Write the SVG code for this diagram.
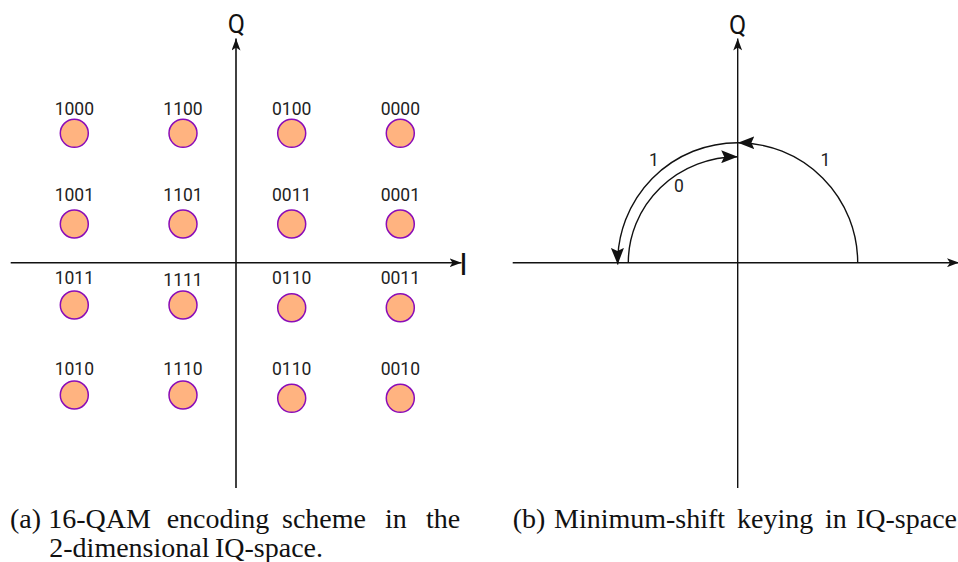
<svg xmlns="http://www.w3.org/2000/svg" width="958" height="562" viewBox="0 0 958 562">
<style>
.pt{fill:#ffb380;stroke:#8a0cb8;stroke-width:1.5}
.lbl{font-family:Roboto,"Liberation Sans",sans-serif;font-size:17.5px;fill:#222;text-anchor:middle}
.ax{font-family:Roboto,"Liberation Sans",sans-serif;font-size:25px;fill:#111;text-anchor:middle}
.axis{stroke:#111;stroke-width:1.6;fill:none}
.arc{stroke:#111;stroke-width:1.4;fill:none}
.cap{font-family:"Liberation Serif","Times New Roman",serif;font-size:28px;fill:#111}
</style>
<defs>
<marker id="sa" markerUnits="userSpaceOnUse" markerWidth="13" markerHeight="9" refX="12" refY="4.5" orient="auto" viewBox="0 0 13 9">
<path d="M0,0 L12,4.5 L0,9 L3,4.5 z" fill="#111"/>
</marker>
<marker id="la" markerUnits="userSpaceOnUse" markerWidth="17" markerHeight="13" refX="16.5" refY="6.5" orient="auto" viewBox="0 0 17 13">
<path d="M0,0 L16.5,6.5 L0,13 L3,6.5 z" fill="#111"/>
</marker>
</defs>

<g id="connectors">
<line class="axis" x1="236" y1="488" x2="236" y2="38.5" marker-end="url(#sa)"/>
<line class="axis" x1="10.7" y1="262.7" x2="461.5" y2="262.7" marker-end="url(#sa)"/>
<line class="arc" x1="737.7" y1="488" x2="737.7" y2="38.5" marker-end="url(#sa)"/>
<line class="arc" x1="512.7" y1="262.7" x2="959" y2="262.7" marker-end="url(#sa)"/>
<path class="arc" d="M857.7,262.7 A120,120 0 0 0 737.9,142.7" marker-end="url(#la)"/>
<path class="arc" d="M737.7,142.7 A120,120 0 0 0 617.7,264.5" marker-end="url(#la)"/>
<path class="arc" d="M628.3,262.7 A109.4,106 0 0 1 737.7,156.7" marker-end="url(#la)"/>
</g>

<g id="axis-labels">
<text class="ax" x="236.3" y="33">Q</text>
<text class="ax" x="463.5" y="275" style="font-size:31px">I</text>
<text class="ax" x="737.5" y="34">Q</text>
</g>

<g id="p1000"><circle class="pt" cx="74.3" cy="133.3" r="14"/><text class="lbl" x="74.3" y="115">1000</text></g>
<g id="p1100"><circle class="pt" cx="183" cy="133.3" r="14"/><text class="lbl" x="183" y="115">1100</text></g>
<g id="p0100"><circle class="pt" cx="291.7" cy="133.3" r="14"/><text class="lbl" x="291.7" y="115">0100</text></g>
<g id="p0000"><circle class="pt" cx="400.3" cy="133.3" r="14"/><text class="lbl" x="400.3" y="115">0000</text></g>

<g id="p1001"><circle class="pt" cx="74.3" cy="224" r="14"/><text class="lbl" x="74.3" y="201.3">1001</text></g>
<g id="p1101"><circle class="pt" cx="183" cy="224" r="14"/><text class="lbl" x="183" y="201.3">1101</text></g>
<g id="p0011a"><circle class="pt" cx="291.7" cy="224" r="14"/><text class="lbl" x="291.7" y="201.3">0011</text></g>
<g id="p0001"><circle class="pt" cx="400.3" cy="224" r="14"/><text class="lbl" x="400.3" y="201.3">0001</text></g>

<g id="p1011"><circle class="pt" cx="74.3" cy="305" r="14"/><text class="lbl" x="74.3" y="284">1011</text></g>
<g id="p1111"><circle class="pt" cx="183" cy="305" r="14"/><text class="lbl" x="183" y="285.7">1111</text></g>
<g id="p0110a"><circle class="pt" cx="291.7" cy="307.7" r="14"/><text class="lbl" x="291.7" y="284">0110</text></g>
<g id="p0011b"><circle class="pt" cx="400.3" cy="307.7" r="14"/><text class="lbl" x="400.3" y="284">0011</text></g>

<g id="p1010"><circle class="pt" cx="74.3" cy="395" r="14"/><text class="lbl" x="74.3" y="375">1010</text></g>
<g id="p1110"><circle class="pt" cx="183" cy="395" r="14"/><text class="lbl" x="183" y="375">1110</text></g>
<g id="p0110b"><circle class="pt" cx="291.7" cy="398.3" r="14"/><text class="lbl" x="291.7" y="375">0110</text></g>
<g id="p0010"><circle class="pt" cx="400.3" cy="398.3" r="14"/><text class="lbl" x="400.3" y="375">0010</text></g>

<g id="arc-labels">
<text class="lbl" x="654" y="165.7">1</text>
<text class="lbl" x="678.8" y="192.3">0</text>
<text class="lbl" x="825.5" y="165.7">1</text>
</g>

<g id="captions">
<text class="cap" y="527.7"><tspan x="10">(a)</tspan><tspan x="48.3">16-QAM</tspan><tspan x="166.7">encoding</tspan><tspan x="282">scheme</tspan><tspan x="385">in</tspan><tspan x="426">the</tspan></text>
<text class="cap" y="556.7"><tspan x="49.3">2-dimensional</tspan><tspan x="215">IQ-space.</tspan></text>
<text class="cap" y="527.7"><tspan x="512.7">(b)</tspan><tspan x="554">Minimum-shift</tspan><tspan x="737">keying</tspan><tspan x="825">in</tspan><tspan x="856">IQ-space</tspan></text>
</g>
</svg>
